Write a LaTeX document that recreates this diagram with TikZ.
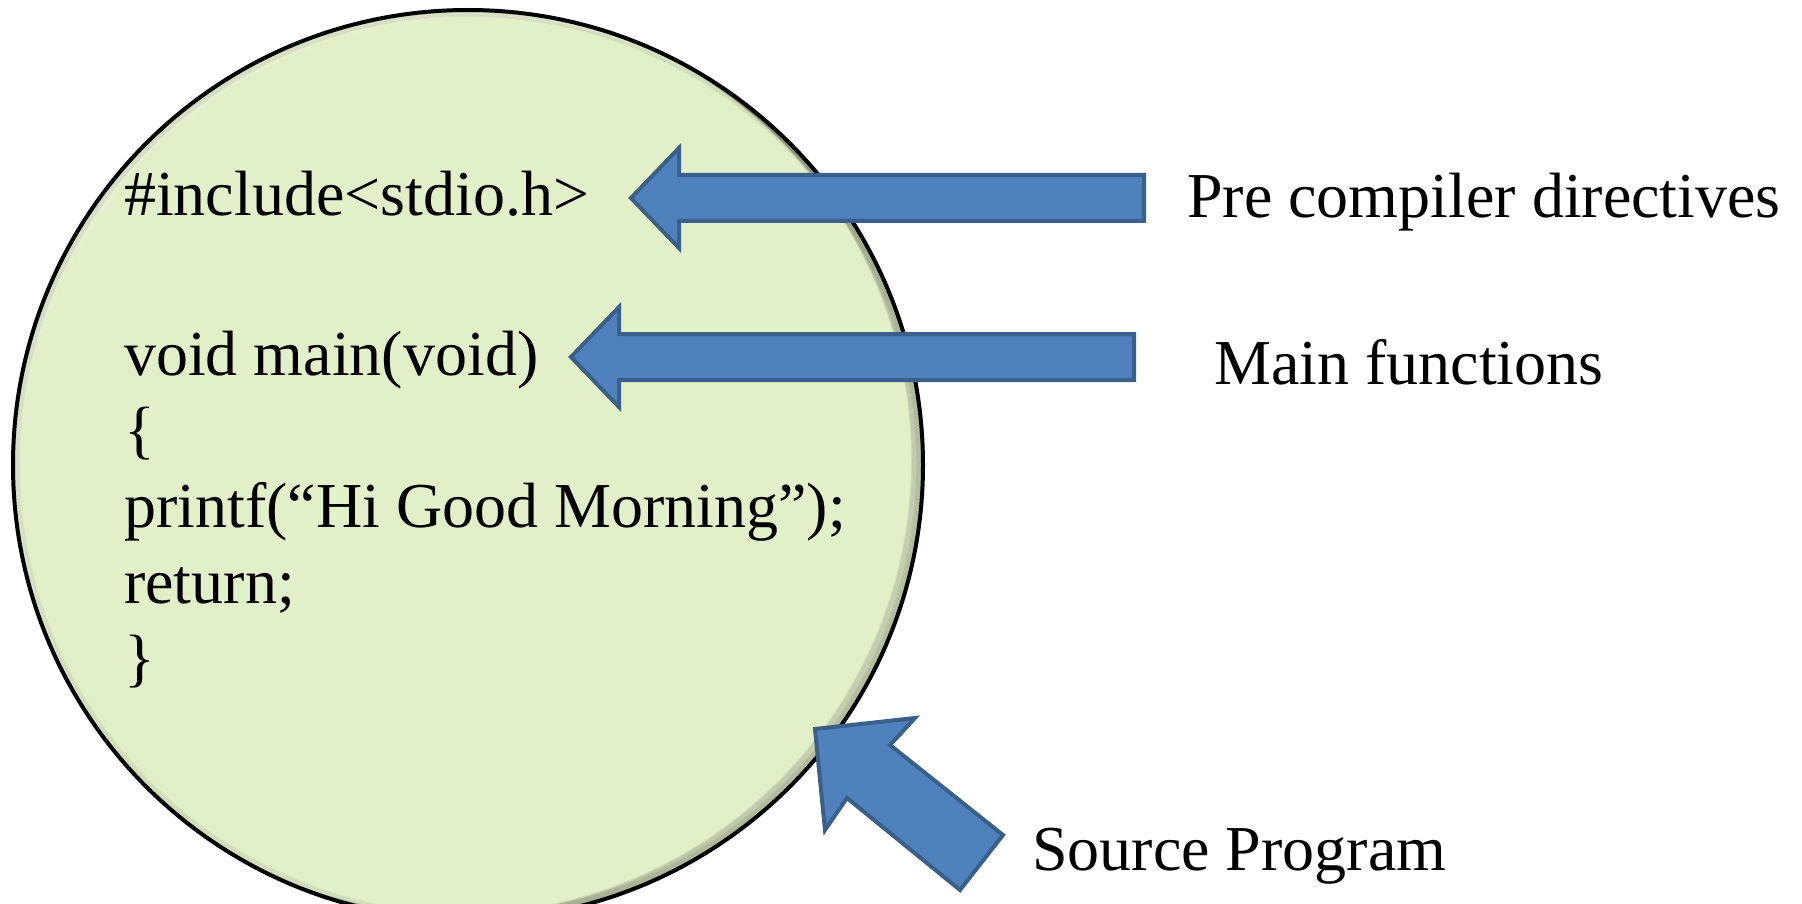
\documentclass[tikz,border=0pt]{standalone}
\usepackage{fontspec}
\setmainfont{Liberation Serif}
\definecolor{discfill}{HTML}{E2F0CA}
\definecolor{arrowblue}{HTML}{4F81BD}
\definecolor{arrowedge}{HTML}{3A5F8B}
\begin{document}
\begin{tikzpicture}[x=1pt,y=-1pt,
  txt/.style={anchor=base west, inner sep=0pt, font=\fontsize{64}{76}\selectfont},
  blockarrow/.style={fill=arrowblue, draw=arrowedge, line width=4pt, line join=miter}]
\useasboundingbox (0,0) rectangle (1802,904);

% the source-program disc
\coordinate (c) at (468,465);
\fill[discfill] (c) circle (455);
\begin{scope}
  \clip (c) circle (455);
  % soft bevel: dark towards the lower right, light towards the upper left
  \foreach \d in {1,...,10}{
    \draw[black, opacity=0.08, line width=2pt] ([shift={(-\d*1.1,-\d*0.5)}]c) circle (455);
  }
  \foreach \d in {1,...,6}{
    \draw[white, opacity=0.12, line width=2pt] ([shift={(\d*1.0,\d*1.0)}]c) circle (455);
  }
  \foreach \d in {1,...,4}{
    \draw[black, opacity=0.05, line width=2pt] (c) circle (455-\d*1.5);
  }
\end{scope}
\draw[black, line width=4pt] (c) circle (455);

% program text
\node[txt] (l1) at (124,216) {\#include<stdio.h>};
\node[txt] (l2) at (124,375) {void main(void)};
\node[txt] (l3) at (124,451) {\{};
\node[txt] (l4) at (124,527) {printf(“Hi Good Morning”);};
\node[txt] (l5) at (124,603) {return;};
\node[txt] (l6) at (124,679) {\}};

% captions
\node[txt] (pre) at (1187,218) {Pre compiler directives};
\node[txt] (mainf) at (1214,384) {Main functions};
\node[txt] (srcp) at (1032,870) {Source Program};

% block arrows
\draw[blockarrow] (631,198) -- (679,148) -- (679,175) -- (1144,175) -- (1144,221)
  -- (679,221) -- (679,248) -- cycle;
\draw[blockarrow] (571,357) -- (619,307) -- (619,334) -- (1134,334) -- (1134,380)
  -- (619,380) -- (619,407) -- cycle;
\draw[blockarrow] (815,729) -- (915,718) -- (890,745) -- (1003,835) -- (960,890)
  -- (847,798) -- (825,830) -- cycle;
\end{tikzpicture}
\end{document}
